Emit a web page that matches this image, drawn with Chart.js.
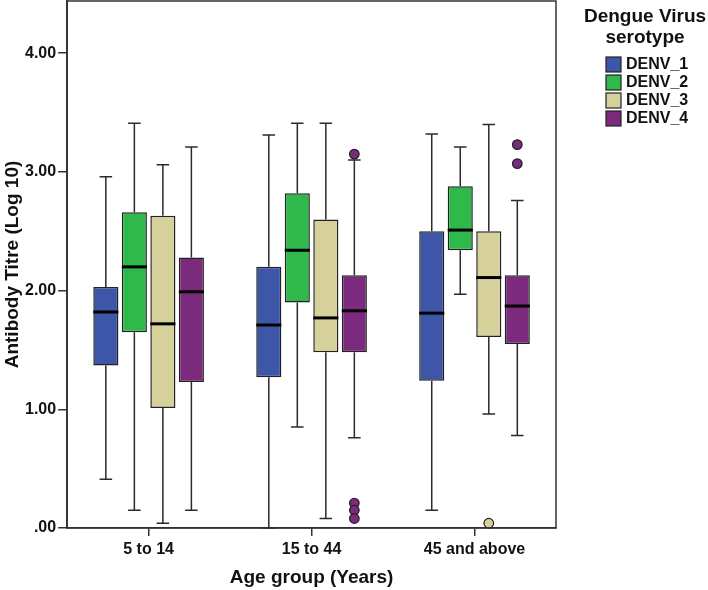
<!DOCTYPE html>
<html>
<head>
<meta charset="utf-8">
<script src="https://cdn.jsdelivr.net/npm/chart.js@4/dist/chart.umd.min.js"></script>
<style>
  html, body { margin: 0; padding: 0; background: #fff; }
  #wrap { width: 708px; height: 590px; }
</style>
</head>
<body>
<div id="wrap"><canvas id="boxChart"></canvas></div>
<script>
// age groups on the x axis
const ageGroups = ['5 to 14', '15 to 44', '45 and above'];
const serotypes = ['DENV_1', 'DENV_2', 'DENV_3', 'DENV_4'];
const colors = ['#3d56a8', '#2fb94a', '#d6d19b', '#7b2a7d'];
const legendTitle = ['Dengue Virus', 'serotype'];

// box plot stats, one row per serotype, one column per age group
const whiskerLow = [
    [0.41, 0.00, 0.15],
    [0.15, 0.85, 1.97],
    [0.04, 0.08, 0.96],
    [0.15, 0.76, 0.78]
];
const q1 = [
    [1.37, 1.27, 1.24],
    [1.65, 1.90, 2.34],
    [1.01, 1.48, 1.61],
    [1.23, 1.48, 1.55]
];
const medians = [
    [1.82, 1.71, 1.81],
    [2.20, 2.34, 2.51],
    [1.72, 1.77, 2.11],
    [1.99, 1.83, 1.87]
];
const q3 = [
    [2.03, 2.20, 2.50],
    [2.66, 2.82, 2.88],
    [2.63, 2.60, 2.50],
    [2.28, 2.13, 2.13]
];
const whiskerHigh = [
    [2.96, 3.31, 3.32],
    [3.41, 3.41, 3.21],
    [3.06, 3.41, 3.40],
    [3.21, 3.10, 2.76]
];
const outliers = [
    [[], [], []],
    [[], [], []],
    [[], [], [0.04]],
    [[], [3.15, 0.21, 0.15, 0.08], [3.23, 3.07]]
];

const FONT = "'Liberation Sans', Arial, sans-serif";

const boxWhiskers = {
    id: 'boxWhiskers',
    afterDatasetsDraw(chart) {
        const ctx = chart.ctx;
        const yScale = chart.scales.y;
        ctx.save();
        chart.data.datasets.forEach((ds, d) => {
            const meta = chart.getDatasetMeta(d);
            meta.data.forEach((bar, g) => {
                const x = bar.x;
                const w = bar.width;
                const yLo = yScale.getPixelForValue(whiskerLow[d][g]);
                const yQ1 = yScale.getPixelForValue(q1[d][g]);
                const yQ3 = yScale.getPixelForValue(q3[d][g]);
                const yHi = yScale.getPixelForValue(whiskerHigh[d][g]);
                const yMed = yScale.getPixelForValue(medians[d][g]);
                ctx.strokeStyle = '#2b2b2b';
                ctx.lineWidth = 1.5;
                ctx.beginPath();
                ctx.moveTo(x, yQ3); ctx.lineTo(x, yHi);
                ctx.moveTo(x - w / 4, yHi); ctx.lineTo(x + w / 4, yHi);
                ctx.moveTo(x, yQ1); ctx.lineTo(x, yLo);
                ctx.moveTo(x - w / 4, yLo); ctx.lineTo(x + w / 4, yLo);
                ctx.stroke();
                // median
                ctx.strokeStyle = '#000';
                ctx.lineWidth = 3;
                ctx.beginPath();
                ctx.moveTo(x - w / 2, yMed); ctx.lineTo(x + w / 2, yMed);
                ctx.stroke();
                // outliers
                outliers[d][g].forEach(v => {
                    ctx.beginPath();
                    ctx.arc(x, yScale.getPixelForValue(v), 4.8, 0, Math.PI * 2);
                    ctx.fillStyle = colors[d];
                    ctx.fill();
                    ctx.lineWidth = 1.2;
                    ctx.strokeStyle = '#222';
                    ctx.stroke();
                });
            });
        });
        // frame round the plot
        const a = chart.chartArea;
        ctx.strokeStyle = '#333';
        ctx.lineWidth = 1.5;
        ctx.strokeRect(a.left, a.top, a.right - a.left, a.bottom - a.top);

        // legend on the right
        const cx = a.right + 89;
        ctx.fillStyle = '#111';
        ctx.textAlign = 'center';
        ctx.textBaseline = 'middle';
        ctx.font = 'bold 19px ' + FONT;
        legendTitle.forEach((line, i) => ctx.fillText(line, cx, 17 + i * 21));
        ctx.font = 'bold 16px ' + FONT;
        ctx.textAlign = 'left';
        serotypes.forEach((name, i) => {
            const top = 57 + i * 18;
            ctx.fillStyle = colors[i];
            ctx.fillRect(a.right + 50, top, 15, 15);
            ctx.strokeStyle = '#222';
            ctx.lineWidth = 1.2;
            ctx.strokeRect(a.right + 50, top, 15, 15);
            ctx.fillStyle = '#111';
            ctx.fillText(name, a.right + 70, top + 8);
        });
        ctx.restore();
    }
};

new Chart(document.getElementById('boxChart'), {
    type: 'bar',
    data: {
        labels: ageGroups,
        datasets: serotypes.map((name, d) => ({
            label: name,
            data: ageGroups.map((_, g) => [q1[d][g], q3[d][g]]),
            backgroundColor: colors[d],
            borderColor: '#222',
            borderWidth: 1.5,
            borderSkipped: false,
            categoryPercentage: 0.7,
            barPercentage: 0.88
        }))
    },
    options: {
        responsive: true,
        maintainAspectRatio: false,
        animation: false,
        layout: { padding: { left: 3, top: 1, right: 152, bottom: 0 } },
        scales: {
            x: {
                grid: { display: true, drawOnChartArea: false, offset: false, tickLength: 8, color: '#333', lineWidth: 1.5 },
                border: { display: true, color: '#333', width: 1.5 },
                ticks: { color: '#111', font: { family: FONT, size: 16, weight: 'bold' }, padding: 4 },
                title: {
                    display: true,
                    text: 'Age group (Years)',
                    color: '#111',
                    font: { family: FONT, size: 19, weight: 'bold', lineHeight: 1.2 },
                    padding: { top: 3, bottom: 1 }
                },
                afterFit: scale => { scale.paddingRight = 0; scale.paddingLeft = 0; }
            },
            y: {
                min: 0,
                max: 4.44,
                grid: { display: true, drawOnChartArea: false, tickLength: 9, color: '#333', lineWidth: 1.5 },
                border: { display: true, color: '#333', width: 1.5 },
                ticks: {
                    stepSize: 1,
                    includeBounds: false,
                    padding: 2,
                    color: '#111',
                    font: { family: FONT, size: 16, weight: 'bold' },
                    callback: v => v === 0 ? '.00' : v.toFixed(2)
                },
                title: {
                    display: true,
                    text: 'Antibody Titre (Log 10)',
                    color: '#111',
                    font: { family: FONT, size: 19, weight: 'bold', lineHeight: 1 },
                    padding: { top: 0, bottom: 1 }
                },
                afterFit: scale => { scale.paddingTop = 0; }
            }
        },
        plugins: {
            tooltip: { enabled: false },
            legend: { display: false }
        }
    },
    plugins: [boxWhiskers]
});
</script>
</body>
</html>
